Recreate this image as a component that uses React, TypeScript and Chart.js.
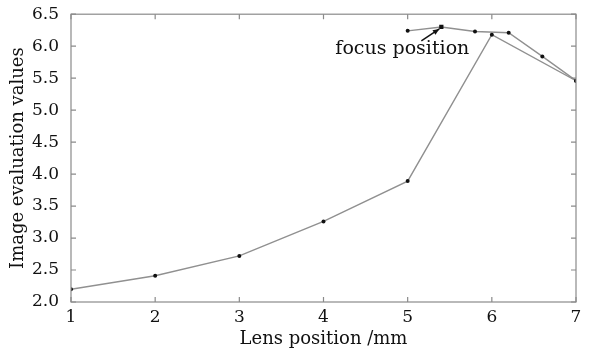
import React, { useEffect, useRef } from "react";
import { Chart, registerables } from "chart.js";

Chart.register(...registerables);

const coarseX = [1, 2, 3, 4, 5, 6, 7];
const coarseY = [2.2, 2.41, 2.72, 3.26, 3.89, 6.18, 5.46];
const fineX = [5, 5.4, 5.8, 6.2, 6.6, 7];
const fineY = [6.24, 6.3, 6.23, 6.21, 5.84, 5.46];
const focusX = 5.4;
const focusY = 6.3;
const xTicks = [1, 2, 3, 4, 5, 6, 7];
const yTicks = [2.0, 2.5, 3.0, 3.5, 4.0, 4.5, 5.0, 5.5, 6.0, 6.5];
const xTitle = "Lens position /mm";
const yTitle = "Image evaluation values";
const annotationText = "focus position";

const FONT = "'DejaVu Serif', serif";

const framePlugin = {
  id: "frame",
  afterDraw(chart: any) {
    const { ctx, chartArea: a, scales } = chart;
    const xs = scales.x;
    const ys = scales.y;
    ctx.save();
    ctx.strokeStyle = "#8a8a8a";
    ctx.lineWidth = 1.2;
    ctx.strokeRect(a.left, a.top, a.right - a.left, a.bottom - a.top);
    const L = 5;
    ctx.beginPath();
    xTicks.forEach((v) => {
      const px = xs.getPixelForValue(v);
      ctx.moveTo(px, a.bottom);
      ctx.lineTo(px, a.bottom - L);
      ctx.moveTo(px, a.top);
      ctx.lineTo(px, a.top + L);
    });
    yTicks.forEach((v) => {
      const py = ys.getPixelForValue(v);
      ctx.moveTo(a.left, py);
      ctx.lineTo(a.left + L, py);
      ctx.moveTo(a.right, py);
      ctx.lineTo(a.right - L, py);
    });
    ctx.stroke();

    // annotation
    const fx = xs.getPixelForValue(focusX);
    const fy = ys.getPixelForValue(focusY);
    ctx.fillStyle = "#111";
    ctx.font = "19px " + FONT;
    ctx.textAlign = "center";
    ctx.textBaseline = "middle";
    ctx.fillText(annotationText, fx - 39, fy + 22);
    const sx = fx - 20, sy = fy + 14;
    const ex = fx - 2, ey = fy + 2;
    ctx.strokeStyle = "#111";
    ctx.lineWidth = 1.5;
    ctx.beginPath();
    ctx.moveTo(sx, sy);
    ctx.lineTo(ex, ey);
    ctx.stroke();
    const ang = Math.atan2(ey - sy, ex - sx);
    ctx.beginPath();
    ctx.moveTo(ex, ey);
    ctx.lineTo(ex - 7 * Math.cos(ang - 0.4), ey - 7 * Math.sin(ang - 0.4));
    ctx.lineTo(ex - 7 * Math.cos(ang + 0.4), ey - 7 * Math.sin(ang + 0.4));
    ctx.closePath();
    ctx.fill();
    ctx.restore();
  },
};

export default function App() {
  const ref = useRef<HTMLCanvasElement>(null);
  useEffect(() => {
    const chart = new Chart(ref.current!, {
      type: "line",
      data: {
        datasets: [
          {
            data: coarseX.map((x, i) => ({ x, y: coarseY[i] })),
            borderColor: "#909090",
            borderWidth: 1.4,
            pointRadius: 2,
            pointBackgroundColor: "#111",
            pointBorderColor: "#111",
            pointBorderWidth: 0,
          },
          {
            data: fineX.map((x, i) => ({ x, y: fineY[i] })),
            borderColor: "#909090",
            borderWidth: 1.4,
            pointRadius: fineX.map((x) => (x === focusX ? 3 : 2)),
            pointStyle: fineX.map((x) => (x === focusX ? "rect" : "circle")) as any,
            pointBackgroundColor: "#111",
            pointBorderColor: "#111",
            pointBorderWidth: 0,
          },
        ],
      },
      options: {
        animation: false,
        responsive: false,
        maintainAspectRatio: false,
        layout: { padding: { left: 8, top: 12, right: 14, bottom: 0 } },
        plugins: { legend: { display: false }, tooltip: { enabled: false } },
        scales: {
          x: {
            type: "linear",
            min: 1,
            max: 7,
            afterBuildTicks: (s: any) => {
              s.ticks = xTicks.map((v) => ({ value: v }));
            },
            afterFit: (s: any) => {
              s.height = 48;
            },
            grid: { display: false },
            border: { display: false },
            ticks: {
              color: "#111",
              font: { family: FONT, size: 17 },
              padding: -3,
              maxRotation: 0,
              callback: (v: any) => String(v),
            },
            title: {
              display: true,
              text: xTitle,
              color: "#111",
              font: { family: FONT, size: 18 },
              padding: { top: -3, bottom: 0 },
            },
          },
          y: {
            type: "linear",
            min: 2,
            max: 6.5,
            afterBuildTicks: (s: any) => {
              s.ticks = yTicks.map((v) => ({ value: v }));
            },
            afterFit: (s: any) => {
              s.width = 63;
            },
            grid: { display: false },
            border: { display: false },
            ticks: {
              color: "#111",
              font: { family: FONT, size: 17 },
              padding: 4,
              callback: (v: any) => Number(v).toFixed(1),
            },
            title: {
              display: true,
              text: yTitle,
              color: "#111",
              font: { family: FONT, size: 18 },
              padding: { top: 0, bottom: 0 },
            },
          },
        },
      },
      plugins: [framePlugin],
    });
    return () => chart.destroy();
  }, []);
  return (
    <div style={{ position: "absolute", left: 0, top: 0, width: 590, height: 350, background: "#fff" }}>
      <canvas ref={ref} width={590} height={350} />
    </div>
  );
}
